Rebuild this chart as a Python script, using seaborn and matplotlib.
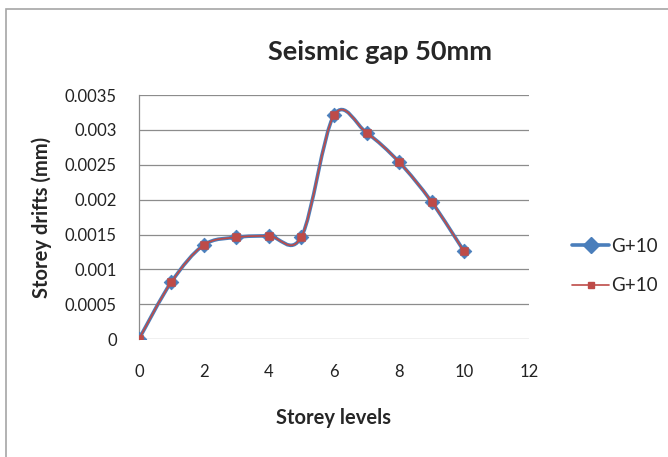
import numpy as np
import matplotlib
matplotlib.use('Agg')
import matplotlib.pyplot as plt
import seaborn as sns
import pandas as pd
from matplotlib.path import Path
from matplotlib.patches import PathPatch, Rectangle
from matplotlib.lines import Line2D

sns.set_style('white')
plt.rcParams['font.family'] = ['Lato', 'DejaVu Sans']

# данные
storey = [0, 1, 2, 3, 4, 5, 6, 7, 8, 9, 10]
drift = [0.0, 0.00082, 0.00135, 0.00146, 0.00148, 0.00147, 0.00321, 0.00296, 0.00254, 0.00197, 0.00126]
series_names = ['G+10', 'G+10']
y_ticks = [0, 0.0005, 0.001, 0.0015, 0.002, 0.0025, 0.003, 0.0035]
y_tick_labels = ['0', '0.0005', '0.001', '0.0015', '0.002', '0.0025', '0.003', '0.0035']
x_ticks = [0, 2, 4, 6, 8, 10, 12]

blue = '#4A7EBB'
red = '#BE4B48'

df = pd.DataFrame({'x': storey, 'y': drift})


def smooth_path(xs, ys):
    # сглаженная линия как в Excel (кривые Безье через точки)
    pts = np.column_stack([xs, ys]).astype(float)
    n = len(pts)
    verts = [pts[0]]
    codes = [Path.MOVETO]
    for i in range(n - 1):
        p0 = pts[i - 1] if i > 0 else pts[i]
        p1 = pts[i]
        p2 = pts[i + 1]
        p3 = pts[i + 2] if i + 2 < n else pts[i + 1]
        c1 = p1 + (p2 - p0) / 6
        c2 = p2 - (p3 - p1) / 6
        verts += [c1, c2, p2]
        codes += [Path.CURVE4] * 3
    return Path(verts, codes)


fig = plt.figure(figsize=(6.68, 4.57), dpi=100)
ax = fig.add_axes([0.208, 0.258, 0.584, 0.534])

# рамка вокруг диаграммы
fig.patches.append(Rectangle((6 / 668, -0.1), 1.2, 1 - 9 / 457 + 0.1, transform=fig.transFigure,
                             fill=False, edgecolor='#A6A6A6', linewidth=1.2))

ax.add_patch(PathPatch(smooth_path(storey, drift), fill=False, edgecolor=blue, linewidth=2.6,
                       zorder=3, capstyle='round'))
sns.scatterplot(data=df, x='x', y='y', marker='D', s=55, color=blue, edgecolor=blue, ax=ax, zorder=4)
ax.add_patch(PathPatch(smooth_path(storey, drift), fill=False, edgecolor=red, linewidth=1.2, zorder=5))
sns.scatterplot(data=df, x='x', y='y', marker='s', s=26, color=red, edgecolor=red, ax=ax, zorder=6)

ax.set_xlim(0, 12)
ax.set_ylim(0, 0.0035)
ax.set_xticks(x_ticks)
ax.set_yticks(y_ticks)
ax.set_yticklabels(y_tick_labels)
ax.tick_params(axis='x', labelsize=12, pad=18, length=0, colors='#222222')
ax.tick_params(axis='y', labelsize=12, pad=16, length=0, colors='#222222')
ax.yaxis.grid(True, color='#8C8C8C', linewidth=0.9)
ax.xaxis.grid(False)
for s in ['top', 'right', 'bottom']:
    ax.spines[s].set_visible(False)
ax.spines['left'].set_color('#8C8C8C')
ax.spines['left'].set_linewidth(0.9)

ax.set_xlabel('Storey levels', fontsize=14.5, fontweight='bold', labelpad=20)
ax.set_ylabel('Storey drifts (mm)', fontsize=14.5, fontweight='bold', labelpad=9)
fig.text(380 / 668, 1 - 52 / 457, 'Seismic gap 50mm', fontsize=19.5, fontweight='bold',
         ha='center', va='center')

handles = [Line2D([], [], color=blue, lw=2.6, marker='D', markersize=8),
           Line2D([], [], color=red, lw=1.2, marker='s', markersize=5)]
fig.legend(handles, series_names, loc='center left', bbox_to_anchor=(555 / 668, 1 - 266 / 457),
           frameon=False, fontsize=13.5, labelspacing=1.2, handlelength=2.0, handletextpad=0.1)

fig.savefig('out.png', dpi=100)
